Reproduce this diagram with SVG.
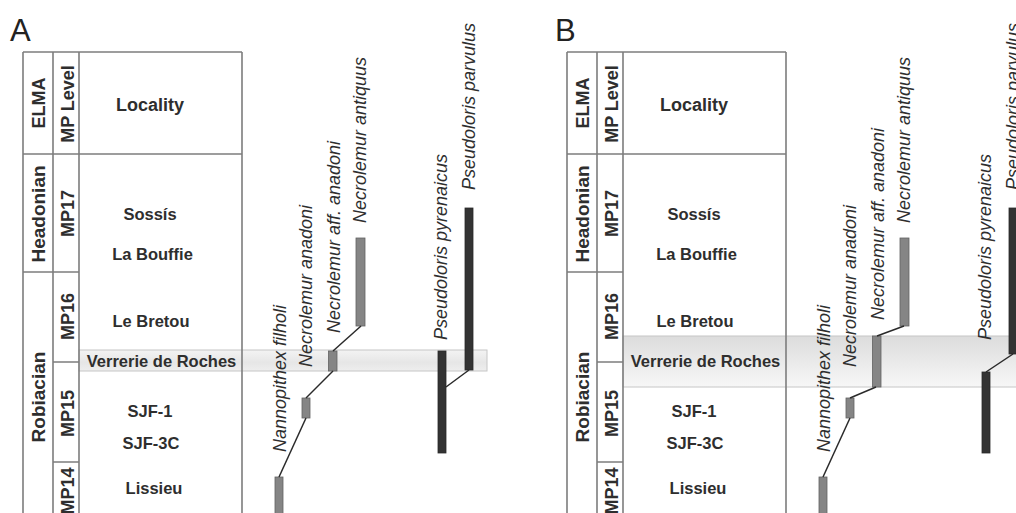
<svg xmlns="http://www.w3.org/2000/svg" width="1016" height="513" viewBox="0 0 1016 513">
<defs>
<linearGradient id="bandA" x1="0" y1="0" x2="0" y2="1"><stop offset="0" stop-color="#f3f3f3"/><stop offset="0.6" stop-color="#e6e6e6"/><stop offset="1" stop-color="#eeeeee"/></linearGradient>
<linearGradient id="bandB" x1="0" y1="0" x2="0" y2="1"><stop offset="0" stop-color="#dcdcdc"/><stop offset="1" stop-color="#f7f7f7"/></linearGradient>
</defs>
<style>
.tl{stroke:#7d7d7d;stroke-width:1.6;fill:none}
.t{font-family:"Liberation Sans",Arial,sans-serif;fill:#2e2e2e}
.b{font-weight:bold}
.hd{font-size:18px;text-anchor:middle}
.loc{font-size:16.5px;text-anchor:middle}
.sp{font-size:18px;font-style:italic}
.pl{font-size:31px;fill:#222}
.bg{fill:#858585;stroke:#626262;stroke-width:0.8}
.bd{fill:#333;stroke:#2a2a2a;stroke-width:0.8}
.cn{stroke:#2a2a2a;stroke-width:1.5;fill:none}
.band{stroke:#c6c6c6;stroke-width:1}
</style>
<rect width="1016" height="513" fill="#fff"/>

<!-- Panel A -->
<g id="panelA">
<text class="t pl" x="10" y="41">A</text>
<rect id="bandA-rect" class="band" x="79" y="350" width="408" height="21" fill="url(#bandA)"/>
<g id="tableA">
<path class="tl" d="M23,52H242M23,154H242M23,52V513M53,52V513M79,52V513M242,52V513M23,272H79M53,362H79M53,462H79"/>
<text class="t b hd" transform="translate(44.5,103) rotate(-90)">ELMA</text>
<text class="t b hd" transform="translate(73.5,104) rotate(-90)">MP Level</text>
<text class="t b hd" style="font-size:19px" transform="translate(45,214) rotate(-90)">Headonian</text>
<text class="t b hd" style="font-size:19px" transform="translate(45,397) rotate(-90)">Robiacian</text>
<text class="t b hd" transform="translate(73.5,213.5) rotate(-90)">MP17</text>
<text class="t b hd" transform="translate(73.5,316.5) rotate(-90)">MP16</text>
<text class="t b hd" transform="translate(73.5,413.5) rotate(-90)">MP15</text>
<text class="t b hd" transform="translate(73.5,491) rotate(-90)">MP14</text>
<text class="t b hd" x="150" y="111">Locality</text>
<text class="t b loc" x="150" y="220">Sossís</text>
<text class="t b loc" x="152.5" y="260">La Bouffie</text>
<text class="t b loc" x="151" y="327">Le Bretou</text>
<text class="t b loc" x="161.5" y="367">Verrerie de Roches</text>
<text class="t b loc" x="150" y="417">SJF-1</text>
<text class="t b loc" x="151" y="449">SJF-3C</text>
<text class="t b loc" x="154" y="494">Lissieu</text>
</g>
<g id="A-nannopithex"><rect class="bg" x="275" y="477" width="8" height="40"/><text class="t sp" transform="translate(285.5,452) rotate(-90)">Nannopithex filholi</text></g>
<g id="A-anadoni"><rect class="bg" x="302" y="398" width="8" height="20"/><text class="t sp" transform="translate(312,367) rotate(-90)">Necrolemur anadoni</text></g>
<g id="A-affanadoni"><rect class="bg" x="328.5" y="351" width="8.5" height="20"/><text class="t sp" transform="translate(340,333) rotate(-90)">Necrolemur aff. anadoni</text></g>
<g id="A-antiquus"><rect class="bg" x="356" y="238" width="9" height="88"/><text class="t sp" transform="translate(366,223) rotate(-90)">Necrolemur antiquus</text></g>
<g id="A-pyrenaicus"><rect class="bd" x="438" y="351" width="8" height="102"/><text class="t sp" transform="translate(446.5,340) rotate(-90)">Pseudoloris pyrenaicus</text></g>
<g id="A-parvulus"><rect class="bd" x="465" y="208" width="8" height="162"/><text class="t sp" transform="translate(475,190) rotate(-90)">Pseudoloris parvulus</text></g>
<g id="A-connectors">
<path class="cn" d="M279,477L306,418"/>
<path class="cn" d="M306,398L333,371"/>
<path class="cn" d="M333,351L361,326"/>
<path class="cn" d="M446,387L469,370"/>
</g>
</g>

<!-- Panel B -->
<g id="panelB">
<text class="t pl" x="555" y="41">B</text>
<rect id="bandB-rect" class="band" x="623" y="336" width="400" height="51" fill="url(#bandB)"/>
<g id="tableB" transform="translate(544,0)">
<path class="tl" d="M23,52H242M23,154H242M23,52V513M53,52V513M79,52V513M242,52V513M23,272H79M53,362H79M53,462H79"/>
<text class="t b hd" transform="translate(44.5,103) rotate(-90)">ELMA</text>
<text class="t b hd" transform="translate(73.5,104) rotate(-90)">MP Level</text>
<text class="t b hd" style="font-size:19px" transform="translate(45,214) rotate(-90)">Headonian</text>
<text class="t b hd" style="font-size:19px" transform="translate(45,397) rotate(-90)">Robiacian</text>
<text class="t b hd" transform="translate(73.5,213.5) rotate(-90)">MP17</text>
<text class="t b hd" transform="translate(73.5,316.5) rotate(-90)">MP16</text>
<text class="t b hd" transform="translate(73.5,413.5) rotate(-90)">MP15</text>
<text class="t b hd" transform="translate(73.5,491) rotate(-90)">MP14</text>
<text class="t b hd" x="150" y="111">Locality</text>
<text class="t b loc" x="150" y="220">Sossís</text>
<text class="t b loc" x="152.5" y="260">La Bouffie</text>
<text class="t b loc" x="151" y="327">Le Bretou</text>
<text class="t b loc" x="161.5" y="367">Verrerie de Roches</text>
<text class="t b loc" x="150" y="417">SJF-1</text>
<text class="t b loc" x="151" y="449">SJF-3C</text>
<text class="t b loc" x="154" y="494">Lissieu</text>
</g>
<g id="B-nannopithex"><rect class="bg" x="819" y="477" width="8" height="40"/><text class="t sp" transform="translate(829.5,452) rotate(-90)">Nannopithex filholi</text></g>
<g id="B-anadoni"><rect class="bg" x="846" y="398" width="8" height="20"/><text class="t sp" transform="translate(856,367) rotate(-90)">Necrolemur anadoni</text></g>
<g id="B-affanadoni"><rect class="bg" x="872.5" y="336" width="8.5" height="51"/><text class="t sp" transform="translate(884,320) rotate(-90)">Necrolemur aff. anadoni</text></g>
<g id="B-antiquus"><rect class="bg" x="900" y="238" width="9" height="88"/><text class="t sp" transform="translate(910,223) rotate(-90)">Necrolemur antiquus</text></g>
<g id="B-pyrenaicus"><rect class="bd" x="982" y="372" width="8" height="81"/><text class="t sp" transform="translate(990.5,340) rotate(-90)">Pseudoloris pyrenaicus</text></g>
<g id="B-parvulus"><rect class="bd" x="1009" y="208" width="8" height="146"/><text class="t sp" transform="translate(1019,190) rotate(-90)">Pseudoloris parvulus</text></g>
<g id="B-connectors">
<path class="cn" d="M823,477L850,418"/>
<path class="cn" d="M850,398L876,387"/>
<path class="cn" d="M877,336L904,326"/>
<path class="cn" d="M986,372L1013,354"/>
</g>
</g>
</svg>
